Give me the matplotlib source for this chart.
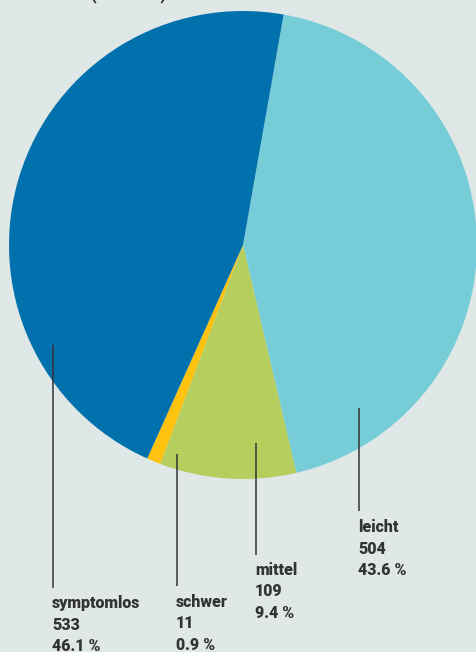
import matplotlib.pyplot as plt

# Daten
kategorien = ['leicht', 'mittel', 'schwer', 'symptomlos']
anzahl = [504, 109, 11, 533]
prozent = ['43.6 %', '9.4 %', '0.9 %', '46.1 %']
farben = ['#76CDD8', '#B5CE5E', '#FFC20E', '#0071AD']

bg = '#E0E7E7'
textfarbe = '#333333'

plt.rcParams['font.family'] = ['Roboto', 'DejaVu Sans']

fig = plt.figure(figsize=(4.77, 6.52), dpi=100, facecolor=bg)
ax = fig.add_axes([0, 0, 1, 1])
ax.set_facecolor(bg)

ax.pie(anzahl, colors=farben, startangle=80, counterclock=False,
       radius=1, center=(0, 0), wedgeprops={'linewidth': 0})

# Pixel -> Daten: Mittelpunkt (243, 245), Radius 234 px
s = 234.0
ax.set_xlim(-243 / s, (477 - 243) / s)
ax.set_ylim((245 - 652) / s, 245 / s)
ax.set_aspect('auto')
ax.axis('off')

# Beschriftungen mit Linien (x, y oben, y unten, y Text)
linien = {
    'leicht': (359, 408, 511, 527),
    'mittel': (256, 443, 555, 570),
    'schwer': (177, 454, 586, 602),
    'symptomlos': (53, 345, 588, 603),
}

for kat, n, p in zip(kategorien, anzahl, prozent):
    x, y1, y2, yt = linien[kat]
    xd = (x - 243) / s
    ax.plot([xd, xd], [(245 - y1) / s, (245 - y2) / s], color=textfarbe, lw=1.1,
            solid_capstyle='butt')
    for i, zeile in enumerate([kat, str(n), p]):
        ax.text(xd - 1 / s, (245 - (yt + i * 21.5)) / s, zeile, ha='left', va='center',
                fontsize=11.5, fontweight='heavy', color=textfarbe)

# abgeschnittener Titel oben
fig.text(166 / 477, 1.0 + 1 / 652, '(n = 1157)', ha='right', va='baseline',
         fontsize=11.5, fontweight='heavy', color=textfarbe)

fig.savefig('out.png', dpi=100, facecolor=bg)
